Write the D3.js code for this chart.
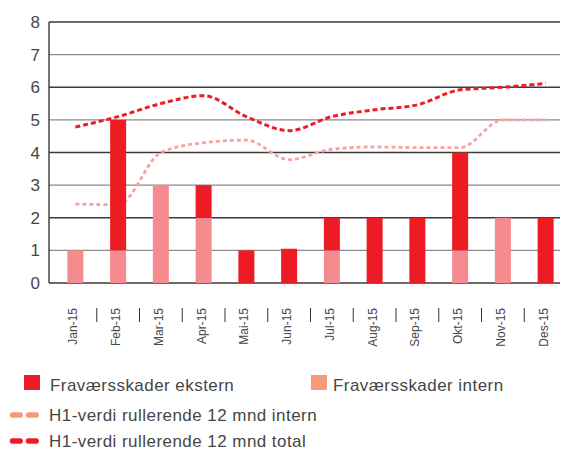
<!DOCTYPE html>
<html>
<head>
<meta charset="utf-8">
<script src="https://cdn.jsdelivr.net/npm/d3@7"></script>
<style>
  body { margin: 0; background: #fff; }
  svg text { font-family: "Liberation Sans", Arial, sans-serif; fill: #464646; }
</style>
</head>
<body>
<div id="chart"></div>
<script>
// chart values
var months = ["Jan-15", "Feb-15", "Mar-15", "Apr-15", "Mai-15", "Jun-15",
              "Jul-15", "Aug-15", "Sep-15", "Okt-15", "Nov-15", "Des-15"];
var skaderIntern = [1, 1, 3, 2, 0, 0, 1, 0, 0, 1, 2, 0];
var skaderEkstern = [0, 4, 0, 1, 1, 1.05, 1, 2, 2, 3, 0, 2];
var h1Intern = [2.42, 2.4, 4.0, 4.3, 4.38, 3.78, 4.1, 4.17, 4.15, 4.15, 5.0, 5.0];
var h1Total = [4.78, 5.1, 5.5, 5.74, 5.1, 4.67, 5.1, 5.31, 5.46, 5.92, 6.0, 6.12];
var yTicks = [0, 1, 2, 3, 4, 5, 6, 7, 8];

var legendBars = ["Fraværsskader ekstern", "Fraværsskader intern"];
var legendLines = ["H1-verdi rullerende 12 mnd intern", "H1-verdi rullerende 12 mnd total"];

var red = "#ed1c24", pink = "#f58b8f", pinkLine = "#f7a3a5", salmon = "#f79a7a";

var width = 564, height = 450;
var plotLeft = 49, plotRight = 560, plotTop = 22, plotBottom = 283;

var svg = d3.select("#chart").append("svg")
  .attr("width", width)
  .attr("height", height);

var y = d3.scaleLinear().domain([0, 8]).range([plotBottom, plotTop]);

var x = d3.scaleBand().domain(months).range([54, 567]).padding(0);
var barW = 16;
var cx = function(d) { return x(d) + x.bandwidth() / 2; };

// gridlines
svg.append("g").selectAll("line")
  .data(yTicks)
  .enter().append("line")
  .attr("x1", plotLeft).attr("x2", plotRight)
  .attr("y1", function(d) { return y(d); })
  .attr("y2", function(d) { return y(d); })
  .attr("stroke", function(d) { return d % 2 == 0 ? "#3a3a3a" : "#8a8a8a"; })
  .attr("stroke-width", 1.4);

// y labels
svg.append("g").selectAll("text")
  .data(yTicks)
  .enter().append("text")
  .attr("x", 40)
  .attr("y", function(d) { return y(d) + 6; })
  .attr("text-anchor", "end")
  .style("font-size", "17px")
  .text(function(d) { return d; });

// left axis line
svg.append("line")
  .attr("x1", plotLeft).attr("x2", plotLeft)
  .attr("y1", plotTop).attr("y2", plotBottom)
  .attr("stroke", "#3a3a3a").attr("stroke-width", 1.4);

var line = d3.line()
  .x(function(d, i) { return cx(months[i]); })
  .y(function(d) { return y(d); })
  .curve(d3.curveMonotoneX);

// intern line goes behind the bars
svg.append("path")
  .datum(h1Intern)
  .attr("d", line)
  .attr("fill", "none")
  .attr("stroke", pinkLine)
  .attr("stroke-width", 2.8)
  .attr("stroke-dasharray", "4,3");

// stacked bars: intern at bottom, ekstern on top
svg.append("g").selectAll("rect")
  .data(months)
  .enter().append("rect")
  .attr("x", function(d) { return cx(d) - barW / 2; })
  .attr("width", barW)
  .attr("y", function(d, i) { return y(skaderIntern[i]); })
  .attr("height", function(d, i) { return y(0) - y(skaderIntern[i]); })
  .attr("fill", pink);

svg.append("g").selectAll("rect")
  .data(months)
  .enter().append("rect")
  .attr("x", function(d) { return cx(d) - barW / 2; })
  .attr("width", barW)
  .attr("y", function(d, i) { return y(skaderIntern[i] + skaderEkstern[i]); })
  .attr("height", function(d, i) { return y(skaderIntern[i]) - y(skaderIntern[i] + skaderEkstern[i]); })
  .attr("fill", red);

svg.append("path")
  .datum(h1Total)
  .attr("d", line)
  .attr("fill", "none")
  .attr("stroke", red)
  .attr("stroke-width", 3)
  .attr("stroke-dasharray", "5,3");

// x separators and rotated labels
var xg = svg.append("g");
xg.selectAll("line")
  .data(months.slice(1))
  .enter().append("line")
  .attr("x1", function(d) { return x(d); })
  .attr("x2", function(d) { return x(d); })
  .attr("y1", 308).attr("y2", 322)
  .attr("stroke", "#333").attr("stroke-width", 1);

xg.selectAll("text")
  .data(months)
  .enter().append("text")
  .attr("transform", function(d) {
    return "translate(" + (cx(d) + 2) + ",308) rotate(-90)";
  })
  .attr("text-anchor", "end")
  .style("font-size", "12px")
  .text(function(d) { return d; });

// legend
var lg = svg.append("g");
lg.append("rect").attr("x", 24).attr("y", 375).attr("width", 16).attr("height", 15).attr("fill", red);
lg.append("text").attr("x", 50).attr("y", 390.5).style("font-size", "17px")
  .style("letter-spacing", "0.45px").text(legendBars[0]);
lg.append("rect").attr("x", 311).attr("y", 375).attr("width", 16).attr("height", 15).attr("fill", salmon);
lg.append("text").attr("x", 333).attr("y", 390.5).style("font-size", "17px")
  .style("letter-spacing", "0.45px").text(legendBars[1]);

var lineColors = [salmon, red];
legendLines.forEach(function(t, i) {
  var ly = 415 + i * 26;
  lg.append("line")
    .attr("x1", 12.5).attr("x2", 36.8)
    .attr("y1", ly).attr("y2", ly)
    .attr("stroke", lineColors[i])
    .attr("stroke-width", 5.5)
    .attr("stroke-linecap", "round")
    .attr("stroke-dasharray", "7.7,8.3");
  lg.append("text").attr("x", 49).attr("y", ly + 6).style("font-size", "17px")
    .style("letter-spacing", "0.45px").text(t);
});
</script>
</body>
</html>
